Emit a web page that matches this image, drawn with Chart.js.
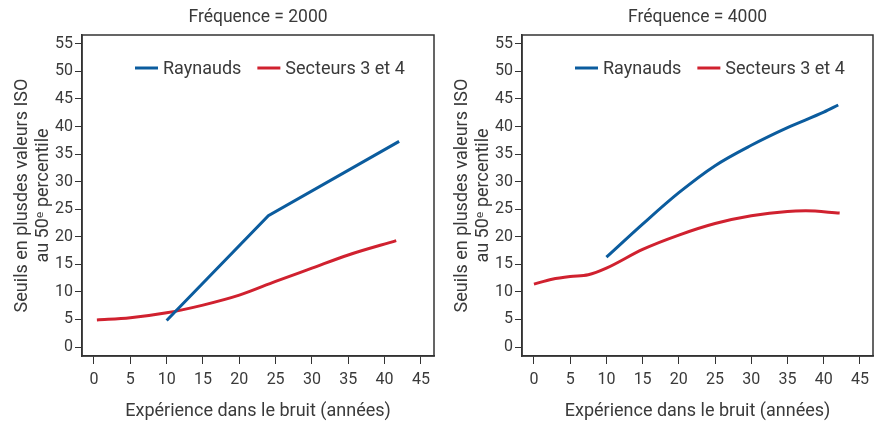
<!DOCTYPE html>
<html>
<head>
<meta charset="utf-8">
<script src="https://cdn.jsdelivr.net/npm/chart.js@4.4.1/dist/chart.umd.min.js"></script>
<style>
  html, body { margin: 0; padding: 0; background: #fff; }
  #wrap { display: flex; width: 887px; height: 422px; }
  .box { position: relative; height: 422px; }
</style>
</head>
<body>
<div id="wrap">
  <div class="box" style="width:440px"><canvas id="chart2000"></canvas></div>
  <div class="box" style="width:447px"><canvas id="chart4000"></canvas></div>
</div>
<script>
// Fréquence = 2000
const raynauds2000Years = [10, 24, 42];
const raynauds2000Values = [4.8, 23.8, 37.3];
const secteurs2000Years = [0.4, 5, 10, 15, 20, 25, 30, 35, 41.6];
const secteurs2000Values = [4.9, 5.3, 6.2, 7.6, 9.4, 11.9, 14.3, 16.7, 19.3];

// Fréquence = 4000
const raynauds4000Years = [10, 15, 20, 25, 30, 35, 40, 42];
const raynauds4000Values = [16.3, 22.3, 28.0, 32.9, 36.6, 39.8, 42.6, 43.9];
const secteurs4000Years = [0, 2.5, 5, 7.5, 10, 15, 20, 25, 30, 35, 37.5, 42.2];
const secteurs4000Values = [11.4, 12.3, 12.8, 13.1, 14.3, 17.7, 20.3, 22.4, 23.8, 24.6, 24.7, 24.3];

const xTicks = [0, 5, 10, 15, 20, 25, 30, 35, 40, 45];
const yTicks = [0, 5, 10, 15, 20, 25, 30, 35, 40, 45, 50, 55];

const seriesNames = ["Raynauds", "Secteurs 3 et 4"];
const xTitle = "Expérience dans le bruit (années)";
const yTitle = ["Seuils en plusdes valeurs ISO", "au 50ᵉ percentile"];

const colors = {
  blue: "#0b5c9e",
  red: "#d0212f",
  text: "#3a3a3a",
  frame: "#333333"
};

const fontFamily = "Roboto, 'Noto Sans', sans-serif";

function toPoints(xs, ys) {
  return xs.map((x, i) => ({x: x, y: ys[i]}));
}

// box around the plot
const framePlugin = {
  id: 'frame',
  afterDraw(chart) {
    const {ctx, chartArea} = chart;
    ctx.save();
    ctx.strokeStyle = colors.frame;
    ctx.lineWidth = 1.5;
    ctx.strokeRect(chartArea.left, chartArea.top, chartArea.right - chartArea.left, chartArea.bottom - chartArea.top);
    ctx.restore();
  }
};

// one-row legend drawn inside the plot (the built-in 'chartArea' legend stacks vertically)
const innerLegend = {
  id: 'innerLegend',
  afterDraw(chart) {
    const {ctx, chartArea} = chart;
    let x = chartArea.left + 53;
    const y = chartArea.top + 33;
    ctx.save();
    ctx.font = "18px " + fontFamily;
    ctx.textBaseline = 'middle';
    ctx.lineWidth = 3;
    chart.data.datasets.forEach(ds => {
      ctx.strokeStyle = ds.borderColor;
      ctx.beginPath();
      ctx.moveTo(x, y);
      ctx.lineTo(x + 23, y);
      ctx.stroke();
      x += 28;
      ctx.fillStyle = colors.text;
      ctx.fillText(ds.label, x, y + 1);
      x += ctx.measureText(ds.label).width + 16;
    });
    ctx.restore();
  }
};

function makeChart(id, title, raynauds, secteurs, raynaudsTension, rightPad) {
  Chart.defaults.font.family = fontFamily;
  Chart.defaults.color = colors.text;

  return new Chart(document.getElementById(id), {
    type: 'line',
    data: {
      datasets: [{
        label: seriesNames[0],
        data: raynauds,
        borderColor: colors.blue,
        backgroundColor: colors.blue,
        borderWidth: 3,
        pointRadius: 0,
        tension: raynaudsTension,
        cubicInterpolationMode: raynaudsTension ? 'monotone' : 'default'
      }, {
        label: seriesNames[1],
        data: secteurs,
        borderColor: colors.red,
        backgroundColor: colors.red,
        borderWidth: 3,
        pointRadius: 0,
        cubicInterpolationMode: 'monotone'
      }]
    },
    options: {
      responsive: true,
      maintainAspectRatio: false,
      animation: false,
      layout: { padding: { left: 0, right: rightPad, top: 0, bottom: 0 } },
      plugins: {
        tooltip: { enabled: false },
        legend: { display: false },
        title: {
          display: true,
          fullSize: false,
          text: title,
          color: colors.text,
          font: { size: 17.5, weight: 'normal' },
          padding: { top: 7, bottom: 7 }
        }
      },
      scales: {
        x: {
          type: 'linear',
          min: -1.65,
          max: 46.8,
          afterBuildTicks: (axis) => { axis.ticks = xTicks.map(v => ({value: v})); },
          afterFit: (axis) => { axis.height = 66; },
          grid: { drawOnChartArea: false, drawTicks: true, tickLength: 8, color: colors.frame },
          border: { color: colors.frame, width: 1.5 },
          ticks: { padding: 6, color: colors.text, font: { size: 16 }, maxRotation: 0 },
          title: { display: true, text: xTitle, color: colors.text, font: { size: 18 }, padding: { top: 11, bottom: 0 } }
        },
        y: {
          type: 'linear',
          min: -1.63,
          max: 56.6,
          afterBuildTicks: (axis) => { axis.ticks = yTicks.map(v => ({value: v})); },
          afterFit: (axis) => { axis.width = 82; },
          grid: { drawOnChartArea: false, drawTicks: true, tickLength: 7, color: colors.frame },
          border: { color: colors.frame, width: 1.5 },
          ticks: { padding: 2, color: colors.text, font: { size: 16 } },
          title: { display: true, text: yTitle, color: colors.text, font: { size: 18, lineHeight: 1.15 }, padding: { top: 12, bottom: 0 } }
        }
      }
    },
    plugins: [framePlugin, innerLegend]
  });
}

makeChart('chart2000', 'Fréquence = 2000',
  toPoints(raynauds2000Years, raynauds2000Values),
  toPoints(secteurs2000Years, secteurs2000Values), 0, 6);

makeChart('chart4000', 'Fréquence = 4000',
  toPoints(raynauds4000Years, raynauds4000Values),
  toPoints(secteurs4000Years, secteurs4000Values), 0.4, 14);
</script>
</body>
</html>
